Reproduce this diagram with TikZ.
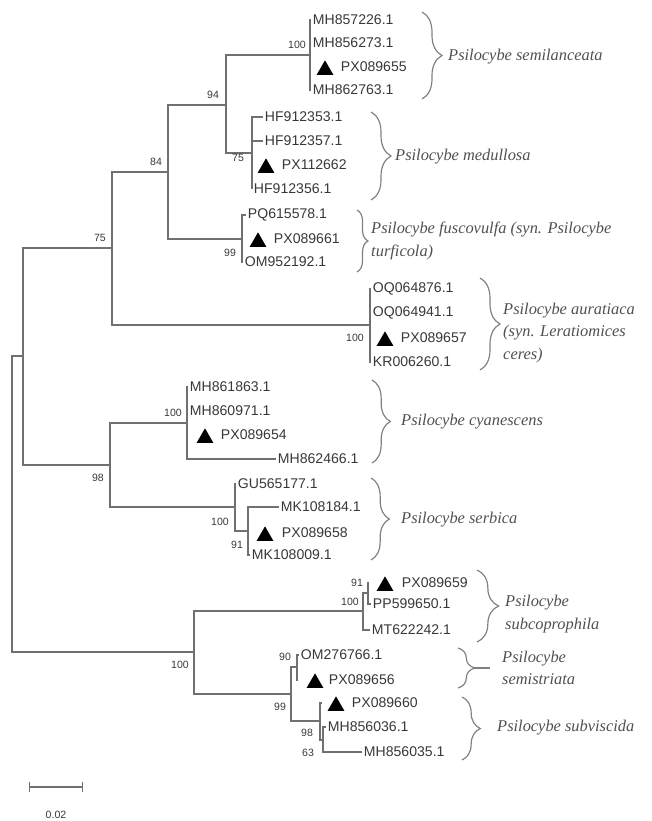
\documentclass[tikz,border=0pt]{standalone}
\usepackage{fontspec}
\setmainfont{Liberation Serif}
\setsansfont{Liberation Sans}
\usetikzlibrary{shapes.geometric,decorations.pathreplacing}

\definecolor{branchgray}{HTML}{707070}
\definecolor{bracegray}{HTML}{808080}
\definecolor{labelgray}{HTML}{383838}
\definecolor{namegray}{HTML}{505050}

\begin{document}
\begin{tikzpicture}[x=0.03cm, y=-0.03cm,
    branch/.style={draw=branchgray, line width=1.6pt},
    leaf/.style={anchor=west, inner sep=1.5pt, text=labelgray,
      font=\sffamily\fontsize{12}{14}\selectfont},
    boot/.style={inner sep=0pt, text=labelgray,
      font=\sffamily\fontsize{9}{10}\selectfont},
    tri/.style={regular polygon, regular polygon sides=3, fill=black,
      inner sep=0pt, minimum size=0.58cm},
    species/.style={anchor=west, align=left, inner sep=0pt, text=namegray,
      font=\itshape\fontsize{14}{19}\selectfont},
    clade/.style={decorate, decoration={brace, amplitude=#1},
      draw=bracegray, line width=1pt},
    clade/.default=0.55cm]
    \useasboundingbox (0,0) rectangle (651,821);

    % internal nodes
    \coordinate (root) at (12,504);
    \coordinate (nA) at (23,356);
    \coordinate (n75) at (112,248);
    \coordinate (n84) at (168,172);
    \coordinate (n94) at (226,105);
    \coordinate (semi) at (310,55);
    \coordinate (medu) at (252,153);
    \coordinate (fusc) at (242,239);
    \coordinate (aura) at (370,325);
    \coordinate (n98) at (110,465);
    \coordinate (cyan) at (187,423);
    \coordinate (serb) at (235,507);
    \coordinate (n91) at (248,531);
    \coordinate (nB) at (194,652);
    \coordinate (subc) at (363,611);
    \coordinate (n91b) at (368,593);
    \coordinate (n99) at (291,694);
    \coordinate (n90) at (297,667);
    \coordinate (n98b) at (320,721);
    \coordinate (n63) at (323,740);

    % tips of the marked sequences
    \coordinate (l655) at (310,67);
    \coordinate (l662) at (252,165);
    \coordinate (l661) at (242,239);
    \coordinate (l657) at (370,338);
    \coordinate (l654) at (187,435);
    \coordinate (l658) at (249,533);
    \coordinate (l659) at (369,583);
    \coordinate (l656) at (298,680);
    \coordinate (l660) at (322,703);

    \begin{scope}[every node/.style={leaf}]
      \node (mh857226) at (311,20) {MH857226.1};
      \node (mh856273) at (311,43) {MH856273.1};
      \node (px089655) at (339,67) {PX089655};
      \node (mh862763) at (311,90) {MH862763.1};

      \node (hf912353) at (263,117) {HF912353.1};
      \node (hf912357) at (263,141) {HF912357.1};
      \node (px112662) at (280,165) {PX112662};
      \node (hf912356) at (252,189) {HF912356.1};

      \node (pq615578) at (246,215) {PQ615578.1};
      \node (px089661) at (272,239) {PX089661};
      \node (om952192) at (243,262) {OM952192.1};

      \node (oq064876) at (371,289) {OQ064876.1};
      \node (oq064941) at (371,313) {OQ064941.1};
      \node (px089657) at (399,338) {PX089657};
      \node (kr006260) at (371,362) {KR006260.1};

      \node (mh861863) at (188,387) {MH861863.1};
      \node (mh860971) at (188,411) {MH860971.1};
      \node (px089654) at (219,435) {PX089654};
      \node (mh862466) at (276,459) {MH862466.1};

      \node (gu565177) at (236,484) {GU565177.1};
      \node (mk108184) at (279,507) {MK108184.1};
      \node (px089658) at (280,533) {PX089658};
      \node (mk108009) at (250,555) {MK108009.1};

      \node (px089659) at (400,583) {PX089659};
      \node (pp599650) at (371,604) {PP599650.1};
      \node (mt622242) at (370,630) {MT622242.1};

      \node (om276766) at (299,655) {OM276766.1};
      \node (px089656) at (327,680) {PX089656};
      \node (px089660) at (350,703) {PX089660};
      \node (mh856036) at (326,727) {MH856036.1};
      \node (mh856035) at (362,752) {MH856035.1};
    \end{scope}

    \begin{scope}[every node/.style={tri}]
      \node (t655) at (325,70) {};
      \node (t662) at (266,168) {};
      \node (t661) at (258,242) {};
      \node (t657) at (385,341) {};
      \node (t654) at (205,438) {};
      \node (t658) at (265,536) {};
      \node (t659) at (385,586) {};
      \node (t656) at (315,683) {};
      \node (t660) at (336,706) {};
    \end{scope}

    \begin{scope}[branch]
      \draw (root) |- (nA);
      \draw (root) |- (nB);
      \draw (nA) |- (n75);
      \draw (nA) |- (n98);
      \draw (n75) |- (n84);
      \draw (n75) |- (aura);
      \draw (n84) |- (n94);
      \draw (n84) |- (fusc);
      \draw (n94) |- (semi);
      \draw (n94) |- (medu);
      % semilanceata
      \draw (semi) |- (mh857226.west);
      \draw (semi) |- (mh856273.west);
      \draw (semi) |- (l655);
      \draw (semi) |- (mh862763.west);
      % medullosa
      \draw (medu) |- (hf912353.west);
      \draw (medu) |- (hf912357.west);
      \draw (medu) |- (l662);
      \draw (medu) |- (hf912356.west);
      % fuscovulfa
      \draw (fusc) |- (pq615578.west);
      \draw (fusc) |- (l661);
      \draw (fusc) |- (om952192.west);
      % auratiaca
      \draw (aura) |- (oq064876.west);
      \draw (aura) |- (oq064941.west);
      \draw (aura) |- (l657);
      \draw (aura) |- (kr006260.west);
      % cyanescens and serbica
      \draw (n98) |- (cyan);
      \draw (n98) |- (serb);
      \draw (cyan) |- (mh861863.west);
      \draw (cyan) |- (mh860971.west);
      \draw (cyan) |- (l654);
      \draw (cyan) |- (mh862466.west);
      \draw (serb) |- (gu565177.west);
      \draw (serb) |- (n91);
      \draw (n91) |- (mk108184.west);
      \draw (n91) |- (l658);
      \draw (n91) |- (mk108009.west);
      % lower clade
      \draw (nB) |- (subc);
      \draw (nB) |- (n99);
      \draw (subc) |- (n91b);
      \draw (subc) |- (mt622242.west);
      \draw (n91b) |- (l659);
      \draw (n91b) |- (pp599650.west);
      \draw (n99) |- (n90);
      \draw (n99) |- (n98b);
      \draw (n90) |- (om276766.west);
      \draw (n90) |- (l656);
      \draw (n98b) |- (l660);
      \draw (n98b) |- (n63);
      \draw (n63) |- (mh856036.west);
      \draw (n63) |- (mh856035.west);
    \end{scope}

    \begin{scope}[every node/.style={boot}]
      \node (b94) at (213,95) {94};
      \node (b84) at (156,162) {84};
      \node (b75) at (100,238) {75};
      \node (bsemi) at (297,45) {100};
      \node (bmedu) at (238,158) {75};
      \node (bfusc) at (230,253) {99};
      \node (baura) at (355,338) {100};
      \node (bcyan) at (173,413) {100};
      \node (b98) at (98,478) {98};
      \node (bserb) at (220,522) {100};
      \node (b91) at (237,545) {91};
      \node (bB) at (180,665) {100};
      \node (bsubc) at (350,602) {100};
      \node (b91b) at (357,583) {91};
      \node (b90) at (285,657) {90};
      \node (b99) at (280,707) {99};
      \node (b98b) at (307,733) {98};
      \node (b63) at (308,753) {63};
    \end{scope}

    % species brackets
    \draw[clade=0.6cm] (422,12) -- (422,99);
    \node[species] (semilanceata) at (448,57) {Psilocybe semilanceata};
    \draw[clade=0.6cm] (371,112) -- (371,200);
    \node[species] (medullosa) at (395,157) {Psilocybe medullosa};
    \draw[clade=0.33cm] (357,210) -- (357,272);
    \node[species] (fuscovulfa) at (371,241)
      {Psilocybe fuscovulfa (syn. Psilocybe\\turficola)};
    \draw[clade=0.6cm] (480,278) -- (480,370);
    \node[species] (auratiaca) at (503,333)
      {Psilocybe auratiaca\\(syn. Leratiomices\\ceres)};
    \draw[clade] (372,380) -- (372,463);
    \node[species] (cyanescens) at (401,422) {Psilocybe cyanescens};
    \draw[clade] (371,478) -- (371,560);
    \node[species] (serbica) at (401,520) {Psilocybe serbica};
    \draw[clade=0.65cm] (477,570) -- (477,642);
    \node[species] (subcoprophila) at (505,614) {Psilocybe\\subcoprophila};
    \draw[clade=0.5cm] (458,648) -- (458,688);
    \coordinate (semitip) at (474,668);
    \draw[bracegray, line width=1pt] (semitip) -- ++(16,0);
    \node[species] (semistriata) at (502,668) {Psilocybe\\semistriata};
    \draw[clade] (462,697) -- (462,760);
    \node[species] (subviscida) at (497,728) {Psilocybe subviscida};

    % scale bar
    \coordinate (sb1) at (29,787);
    \coordinate (sb2) at (83,787);
    \draw[branch, line width=1.2pt, |-|] (sb1) -- (sb2);
    \node[boot] (sblabel) at (56,815) {0.02};

\end{tikzpicture}
\end{document}
